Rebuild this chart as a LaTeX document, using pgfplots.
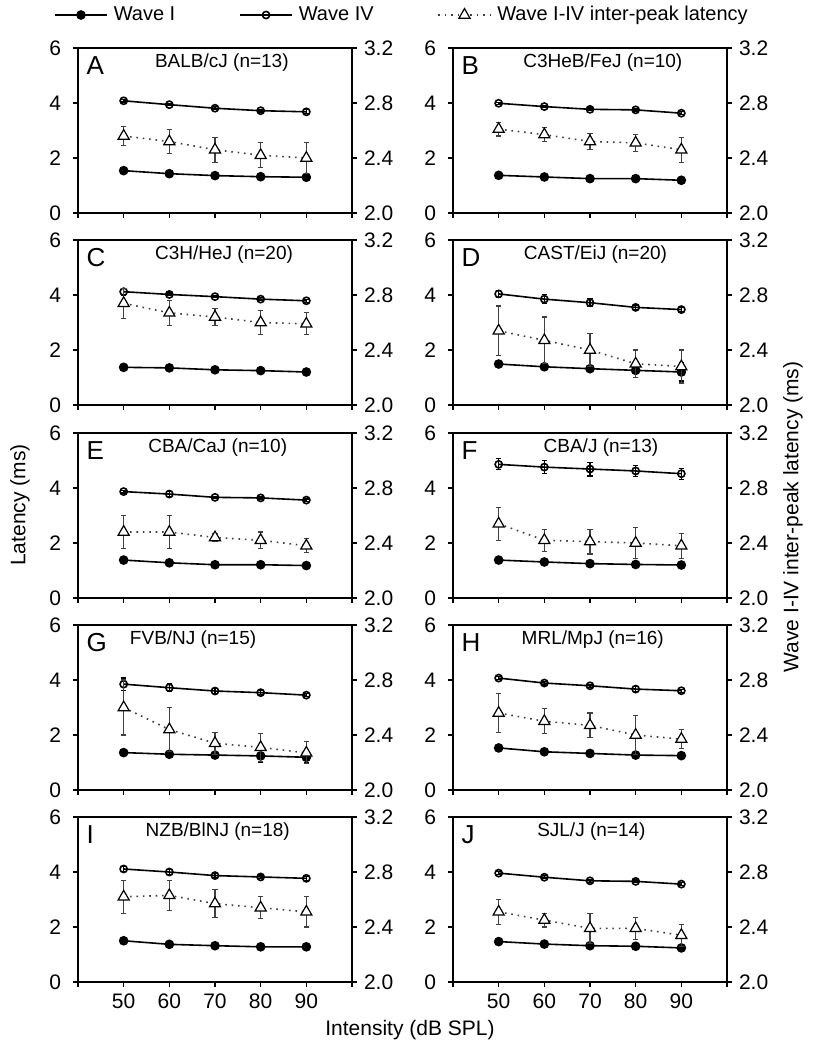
\documentclass[border=0pt]{standalone}
\usepackage{fontspec}
\setmainfont{Liberation Sans}
\usepackage{pgfplots}
\usepackage{pgfplotstable}
\pgfplotsset{compat=1.18}

% columns: intensity, wave I (mean, error), wave IV (mean, error), I-IV inter-peak (mean, error)
\pgfplotstableread{
x  I    Ie    IV   IVe   P    Pe
50 1.54 0.05  4.08 0.04  2.56 0.07
60 1.43 0.04  3.94 0.04  2.52 0.09
70 1.36 0.04  3.81 0.05  2.46 0.09
80 1.32 0.04  3.72 0.05  2.42 0.09
90 1.30 0.08  3.68 0.07  2.40 0.11
}\dataA
\pgfplotstableread{
x  I    Ie    IV   IVe   P    Pe
50 1.37 0.03  3.99 0.04  2.61 0.05
60 1.31 0.03  3.87 0.04  2.57 0.05
70 1.25 0.03  3.77 0.05  2.52 0.06
80 1.25 0.03  3.75 0.04  2.51 0.06
90 1.19 0.03  3.63 0.06  2.46 0.09
}\dataB
\pgfplotstableread{
x  I    Ie    IV   IVe   P    Pe
50 1.37 0.06  4.12 0.12  2.74 0.11
60 1.35 0.04  4.02 0.05  2.67 0.09
70 1.28 0.04  3.94 0.04  2.64 0.06
80 1.25 0.04  3.85 0.06  2.60 0.09
90 1.20 0.04  3.79 0.05  2.59 0.08
}\dataC
\pgfplotstableread{
x  I    Ie    IV   IVe   P    Pe
50 1.49 0.12  4.04 0.12  2.54 0.18
60 1.39 0.08  3.85 0.17  2.47 0.17
70 1.32 0.05  3.72 0.14  2.40 0.12
80 1.26 0.25  3.55 0.09  2.30 0.10
90 1.20 0.33  3.47 0.09  2.28 0.12
}\dataD
\pgfplotstableread{
x  I    Ie    IV   IVe   P    Pe
50 1.38 0.04  3.87 0.05  2.48 0.12
60 1.28 0.04  3.78 0.08  2.48 0.12
70 1.21 0.03  3.66 0.04  2.44 0.03
80 1.21 0.03  3.64 0.04  2.42 0.06
90 1.18 0.03  3.56 0.04  2.38 0.05
}\dataE
\pgfplotstableread{
x  I    Ie    IV   IVe   P    Pe
50 1.38 0.06  4.86 0.20  2.54 0.12
60 1.31 0.04  4.76 0.24  2.42 0.08
70 1.25 0.04  4.69 0.25  2.41 0.09
80 1.22 0.04  4.62 0.20  2.40 0.11
90 1.20 0.07  4.52 0.20  2.38 0.09
}\dataF
\pgfplotstableread{
x  I    Ie    IV   IVe   P    Pe
50 1.36 0.10  3.85 0.22  2.60 0.20
60 1.30 0.04  3.72 0.15  2.44 0.16
70 1.27 0.04  3.60 0.08  2.34 0.08
80 1.24 0.25  3.54 0.07  2.31 0.10
90 1.19 0.20  3.45 0.06  2.27 0.08
}\dataG
\pgfplotstableread{
x  I    Ie    IV   IVe   P    Pe
50 1.53 0.10  4.07 0.05  2.56 0.14
60 1.39 0.04  3.89 0.07  2.50 0.09
70 1.33 0.04  3.79 0.06  2.47 0.09
80 1.27 0.04  3.67 0.10  2.40 0.14
90 1.25 0.04  3.61 0.05  2.37 0.07
}\dataH
\pgfplotstableread{
x  I    Ie    IV   IVe   P    Pe
50 1.50 0.06  4.11 0.08  2.62 0.12
60 1.37 0.04  4.00 0.08  2.63 0.11
70 1.32 0.04  3.87 0.07  2.57 0.10
80 1.28 0.04  3.82 0.07  2.54 0.08
90 1.28 0.04  3.77 0.07  2.51 0.11
}\dataI
\pgfplotstableread{
x  I    Ie    IV   IVe   P    Pe
50 1.47 0.05  3.96 0.06  2.51 0.09
60 1.38 0.04  3.81 0.05  2.45 0.05
70 1.32 0.04  3.68 0.06  2.39 0.11
80 1.30 0.04  3.66 0.05  2.39 0.08
90 1.24 0.04  3.56 0.06  2.34 0.08
}\dataJ

\pgfplotsset{
  panelbase/.style={
    scale only axis, width=137pt, height=82.5pt,
    xmin=40, xmax=100, xtick={40,50,...,100},
    tick align=outside, major tick length=2.5pt,
    every tick/.style={black, line width=0.7pt},
    axis line style={black, line width=0.7pt},
    tick label style={font=\fontsize{10.5}{12}\selectfont},
    /pgf/number format/assume math mode=true,
    clip=false,
  },
  errs/.style={
    error bars/.cd, y dir=both, y explicit,
    error mark options={rotate=90, mark size=1.4pt, line width=0.6pt, solid},
    error bar style={line width=0.6pt, solid},
  },
  waveone/.style={black, line width=0.8pt, mark=*, mark size=2pt, forget plot},
  wavefour/.style={black, line width=0.8pt, mark=o, mark size=1.8pt,
    mark options={fill=white}, forget plot},
  ipl/.style={black!75, line width=0.8pt, dash pattern=on 0.8pt off 2.4pt,
    mark=triangle*, mark size=3.2pt,
    mark options={fill=white, draw=black, solid, line width=0.6pt}, forget plot},
}

% #1 x, #2 y, #3 letter, #4 title, #5 title x (rel), #6 table, #7 x tick labels, #8 axis options, #9 extra code
\newcommand{\panel}[9]{%
\begin{axis}[panelbase, at={(#1,#2)}, anchor=south west,
  ymin=0, ymax=6, ytick={0,2,4,6},
  xtick pos=left, ytick pos=left,
  yticklabel style={xshift=-2.5pt},
  xticklabels={#7}, #8]
  #9
  \addplot[waveone, errs] table[x=x, y=I, y error=Ie]{#6};
  \addplot[wavefour, errs] table[x=x, y=IV, y error=IVe]{#6};
  \node[anchor=north west, inner sep=0pt, font=\fontsize{13}{14}\selectfont]
    at (rel axis cs:0.03,0.95) {#3};
  \node[font=\fontsize{9.5}{11}\selectfont] at (rel axis cs:#5,0.91) {#4};
\end{axis}
\begin{axis}[panelbase, at={(#1,#2)}, anchor=south west,
  axis x line=none, axis y line*=right,
  ymin=2, ymax=3.2, ytick={2,2.4,2.8,3.2},
  yticklabel style={/pgf/number format/.cd, fixed, fixed zerofill, precision=1}]
  \addplot[ipl, errs] table[x=x, y=P, y error=Pe]{#6};
\end{axis}
}

\begin{document}
\begin{tikzpicture}
\useasboundingbox (0,0) rectangle (408.5pt,-525pt);

\panel{39pt}{-106.5pt}{A}{BALB/cJ (n=13)}{0.525}{\dataA}{}{
  legend columns=3,
  legend style={at={(1.186,1.2)}, anchor=center, draw=none, fill=none,
    font=\fontsize{10}{12}\selectfont,
    /tikz/every odd column/.append style={column sep=1pt},
    /tikz/every even column/.append style={column sep=30pt}},
  legend image code/.code={\draw[#1] (0pt,0pt) -- (26pt,0pt);
    \path[#1] plot[mark repeat=1] coordinates {(13pt,0pt)};}}{
  \addlegendimage{black, line width=0.8pt, mark=*, mark size=2pt}
  \addlegendentry{Wave I}
  \addlegendimage{black, line width=0.8pt, mark=o, mark size=1.8pt, mark options={fill=white}}
  \addlegendentry{Wave IV}
  \addlegendimage{black!75, line width=0.8pt, dash pattern=on 0.8pt off 2.4pt,
    mark=triangle*, mark size=3.2pt, mark options={fill=white, draw=black, solid, line width=0.6pt}}
  \addlegendentry{Wave I-IV inter-peak latency}}
\panel{226.5pt}{-106.5pt}{B}{C3HeB/FeJ (n=10)}{0.547}{\dataB}{}{}{}
\panel{39pt}{-202.5pt}{C}{C3H/HeJ (n=20)}{0.533}{\dataC}{}{}{}
\panel{226.5pt}{-202.5pt}{D}{CAST/EiJ (n=20)}{0.52}{\dataD}{}{}{}
\panel{39pt}{-299pt}{E}{CBA/CaJ (n=10)}{0.51}{\dataE}{}{}{}
\panel{226.5pt}{-299pt}{F}{CBA/J (n=13)}{0.54}{\dataF}{}{}{}
\panel{39pt}{-395pt}{G}{FVB/NJ (n=15)}{0.42}{\dataG}{}{}{}
\panel{226.5pt}{-395pt}{H}{MRL/MpJ (n=16)}{0.51}{\dataH}{}{}{}
\panel{39pt}{-491pt}{I}{NZB/BlNJ (n=18)}{0.51}{\dataI}{,50,60,70,80,90,}{}{}
\panel{226.5pt}{-491pt}{J}{SJL/J (n=14)}{0.505}{\dataJ}{,50,60,70,80,90,}{}{}

\node[rotate=90, font=\fontsize{10.5}{12}\selectfont] at (10pt,-252.5pt) {Latency (ms)};
\node[rotate=90, font=\fontsize{10.5}{12}\selectfont] at (396.5pt,-258.5pt) {Wave I-IV inter-peak latency (ms)};
\node[font=\fontsize{10.5}{12}\selectfont] at (205pt,-515pt) {Intensity (dB SPL)};
\end{tikzpicture}
\end{document}
